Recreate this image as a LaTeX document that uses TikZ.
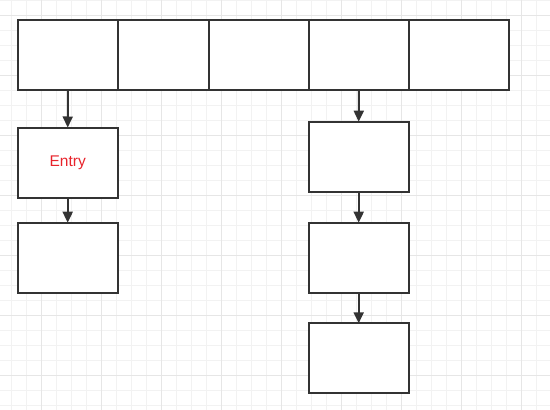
\documentclass[tikz,border=0pt]{standalone}
\usepackage{fontspec}
\setmainfont{Liberation Sans}
\usetikzlibrary{arrows.meta}
\definecolor{gridminor}{HTML}{F2F2F2}
\definecolor{gridmajor}{HTML}{E6E6E6}
\definecolor{strokec}{HTML}{333333}
\definecolor{entryred}{HTML}{E8232B}
\tikzset{
  cell/.style={draw=strokec, line width=2pt, fill=white, inner sep=0pt, outer sep=0pt,
    minimum height=70pt, minimum width=100pt},
  arr/.style={draw=strokec, line width=2pt, -{Triangle[width=10pt,length=11pt]}},
  minorgrid/.style={draw=gridminor, line width=1pt},
  majorgrid/.style={draw=gridmajor, line width=1pt}
}
\begin{document}
\begin{tikzpicture}[x=1pt,y=-1pt]
\useasboundingbox (0,0) rectangle (550,410);
\fill[white] (0,0) rectangle (550,410);
% grid
\foreach \k in {0,...,36} {
  \pgfmathsetmacro{\xx}{11.7+15*\k}
  \draw[minorgrid] (\xx,0) -- (\xx,410);
}
\foreach \k in {0,...,27} {
  \pgfmathsetmacro{\yy}{15*\k}
  \draw[minorgrid] (0,\yy) -- (550,\yy);
}
\foreach \k in {0,...,8} {
  \pgfmathsetmacro{\xx}{41.7+60*\k}
  \draw[majorgrid] (\xx,0) -- (\xx,410);
}
\foreach \k in {0,...,6} {
  \pgfmathsetmacro{\yy}{15+60*\k}
  \draw[majorgrid] (0,\yy) -- (550,\yy);
}
% top row
\node[cell] (c1) at (68,54.7) {};
\node[cell, minimum width=91pt] (c2) at (163.5,54.7) {};
\node[cell] (c3) at (259,54.7) {};
\node[cell] (c4) at (359,54.7) {};
\node[cell] (c5) at (459,54.7) {};
% left column
\node[cell, font=\fontsize{15.5}{18}\selectfont, text=entryred] (e1) at (67.7,162.5) {Entry};
\node[cell] (e2) at (67.7,257.7) {};
% right column
\node[cell] (r1) at (358.7,156.7) {};
\node[cell] (r2) at (358.7,257.7) {};
\node[cell] (r3) at (358.7,358.3) {};
% arrows
\draw[arr] (c1.south) -- (e1.north);
\draw[arr] (e1.south) -- (e2.north);
\draw[arr] (c4.south) -- (r1.north);
\draw[arr] (r1.south) -- (r2.north);
\draw[arr] (r2.south) -- (r3.north);
\end{tikzpicture}
\end{document}
